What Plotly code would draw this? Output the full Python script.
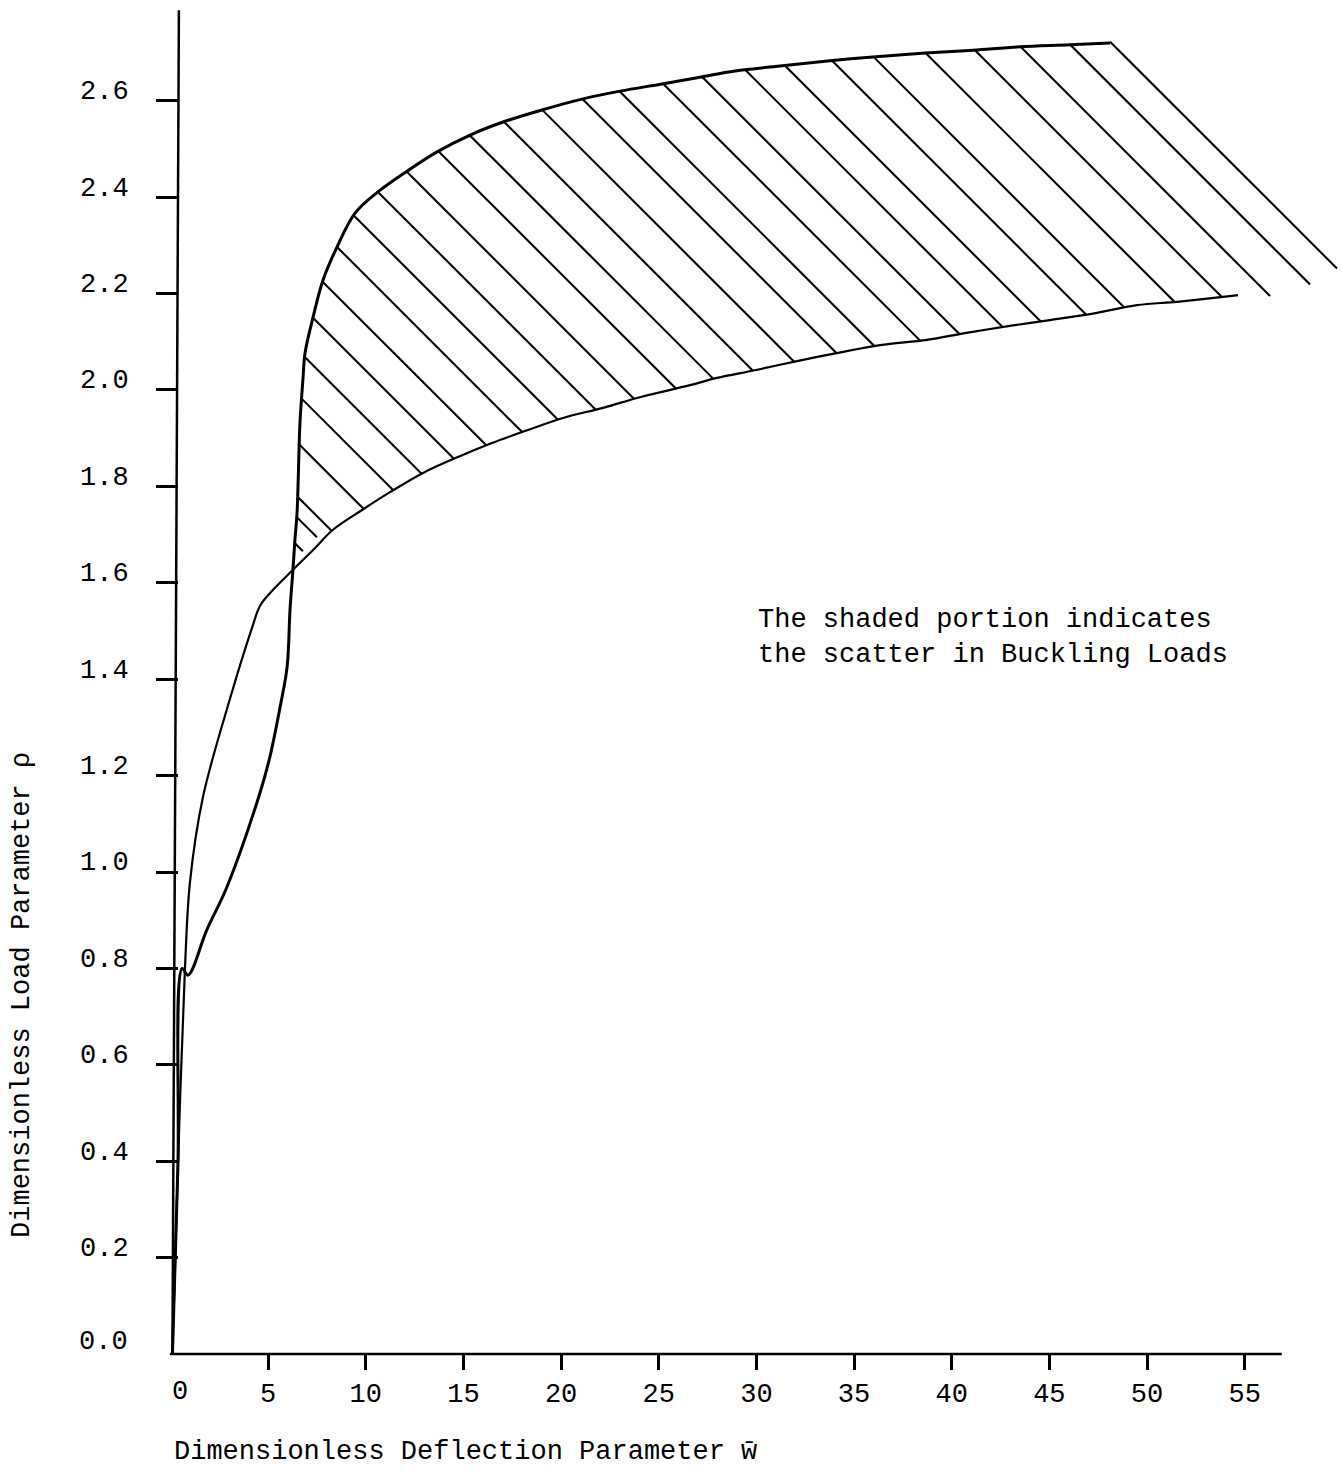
import plotly.graph_objects as go

# ---- data ----
# Curve B (thick): upper boundary of scatter band
B_W = [0.1, 0.38, 0.6, 0.9, 1.86, 2.90, 4.58, 5.09, 5.61, 5.97, 6.12, 6.27, 6.37,
       6.48, 6.63, 6.78, 6.89, 7.30, 7.81, 8.53, 9.45, 10.62, 12.11, 13.65, 15.34,
       17.03, 19.02, 21.12, 23.02, 25.17, 27.11, 28.91, 31.21, 33.77, 35.97, 38.64,
       41.09, 43.50, 46.06, 48.11]
B_RHO = [0.0, 0.39, 0.80, 0.786, 0.880, 0.970, 1.164, 1.239, 1.342, 1.425, 1.544,
         1.627, 1.689, 1.745, 1.932, 2.021, 2.077, 2.151, 2.228, 2.297, 2.367, 2.411,
         2.454, 2.494, 2.529, 2.556, 2.581, 2.604, 2.620, 2.635, 2.649, 2.662, 2.672,
         2.683, 2.691, 2.699, 2.705, 2.712, 2.716, 2.720]

# Curve A (thin): lower boundary of scatter band
A_W = [0.1, 0.38, 0.74, 1.0, 1.66, 3.05, 4.17, 4.58, 5.10, 6.27, 7.30, 8.32, 9.81,
       11.24, 12.93, 14.72, 16.46, 18.30, 20.10, 22.15, 24.04, 26.60, 27.98, 29.93,
       32.08, 34.18, 36.33, 38.73, 40.68, 42.98, 45.03, 47.44, 49.49, 51.54, 53.89,
       54.66]
A_RHO = [0.0, 0.39, 0.80, 0.98, 1.155, 1.36, 1.506, 1.552, 1.579, 1.627, 1.668, 1.710,
         1.751, 1.788, 1.828, 1.861, 1.890, 1.917, 1.942, 1.963, 1.985, 2.010, 2.025,
         2.041, 2.060, 2.077, 2.093, 2.104, 2.118, 2.133, 2.145, 2.160, 2.176, 2.183,
         2.193, 2.197]

CROSS_W = 6.27  # where the two curves cross; hatching lies to the right

# Hatch lines: rho-intercept (at w = 0) of each diagonal line, and explicit end w
HATCH_SLOPE = -0.0405
HATCH_INTERCEPT = [1.940, 1.998, 2.042, 2.154, 2.254, 2.347, 2.445, 2.540, 2.642,
                   2.742, 2.841, 2.943, 3.051, 3.149, 3.248, 3.352, 3.458, 3.551,
                   3.657, 3.752, 3.856, 3.947, 4.055, 4.149, 4.265, 4.373, 4.475,
                   4.582, 4.671]
HATCH_END_W = [6.78, 7.50, None, None, None, None, None, None, None, None, None,
               None, None, None, None, None, None, None, None, None, None, None,
               None, None, None, None, 56.3, 58.35, 59.73]

X_TICKS = [5, 10, 15, 20, 25, 30, 35, 40, 45, 50, 55]
Y_TICKS = [0.2, 0.4, 0.6, 0.8, 1.0, 1.2, 1.4, 1.6, 1.8, 2.0, 2.2, 2.4, 2.6]
Y_TICK_TEXT = ["0.2", "0.4", "0.6", "0.8", "1.0", "1.2", "1.4", "1.6", "1.8",
               "2.0", "2.2", "2.4", "2.6"]

X_TITLE = "Dimensionless Deflection Parameter w\u0304"
Y_TITLE = "Dimensionless Load Parameter \u03c1"
NOTE = "The shaded portion indicates<br>the scatter in Buckling Loads"

# ---- helpers ----
def branch(ws, rs, w0):
    pts = [(w, r) for w, r in zip(ws, rs) if w >= w0 - 1e-9]
    return [p[0] for p in pts], [p[1] for p in pts]

def intersect(ws, rs, k, m):
    for i in range(len(ws) - 1):
        f0 = rs[i] - (k + m * ws[i])
        f1 = rs[i + 1] - (k + m * ws[i + 1])
        if f0 == 0:
            return ws[i]
        if f0 * f1 < 0:
            t = f0 / (f0 - f1)
            return ws[i] + t * (ws[i + 1] - ws[i])
    return None

UW, UR = branch(B_W, B_RHO, CROSS_W)
LW, LR = branch(A_W, A_RHO, CROSS_W)

hx, hy = [], []
for k, wend in zip(HATCH_INTERCEPT, HATCH_END_W):
    w1 = intersect(UW, UR, k, HATCH_SLOPE)
    if w1 is None:
        w1 = UW[-1]
    w2 = wend if wend is not None else intersect(LW, LR, k, HATCH_SLOPE)
    if w2 is None:
        continue
    hx += [w1, w2, None]
    hy += [k + HATCH_SLOPE * w1, k + HATCH_SLOPE * w2, None]

FONT = dict(family="Liberation Mono, Courier New, monospace", size=27, color="black")

fig = go.Figure()
fig.add_trace(go.Scatter(x=hx, y=hy, mode="lines",
                         line=dict(color="black", width=2.1), hoverinfo="skip"))
fig.add_trace(go.Scatter(x=A_W, y=A_RHO, mode="lines",
                         line=dict(color="black", width=2.2, shape="spline", smoothing=1.0)))
fig.add_trace(go.Scatter(x=B_W, y=B_RHO, mode="lines",
                         line=dict(color="black", width=3, shape="spline", smoothing=1.0)))

# axis lines
fig.add_shape(type="line", xref="x", yref="y", x0=-0.03, y0=0, x1=56.9, y1=0,
              line=dict(color="black", width=2.5))
fig.add_shape(type="line", xref="x", yref="y", x0=0.1, y0=0, x1=0.43, y1=2.788,
              line=dict(color="black", width=2.5))

fig.update_layout(
    width=1343, height=1472,
    margin=dict(l=150, r=0, t=0, b=92),
    paper_bgcolor="white", plot_bgcolor="white",
    showlegend=False,
    font=FONT,
    xaxis=dict(range=[-1.0497, 60.036], showgrid=False, zeroline=False, showline=False,
               anchor="free", position=0.01884,
               tickmode="array", tickvals=X_TICKS, ticks="outside", ticklen=15,
               tickwidth=2.5, tickcolor="black", ticklabelstandoff=0,
               tickfont=FONT),
    yaxis=dict(range=[-0.05394, 2.8091], showgrid=False, zeroline=False, showline=False,
               anchor="free", position=0.02347,
               tickmode="array", tickvals=Y_TICKS, ticktext=Y_TICK_TEXT,
               ticks="outside", ticklen=22, tickwidth=2.5, tickcolor="black",
               ticklabelstandoff=22, ticklabelshift=-11, tickfont=FONT),
    annotations=[
        dict(x=0.49, y=0, xref="x", yref="y", text="0", showarrow=False,
             yshift=-38, font=FONT, xanchor="center", yanchor="middle"),
        dict(x=0.1, y=0, xref="x", yref="y", text="0.0", showarrow=False,
             xshift=-42, yshift=12, font=FONT, xanchor="right", yanchor="middle"),
        dict(x=29.98, y=1.486, xref="x", yref="y", text=NOTE, showarrow=False,
             align="left", xanchor="left", yanchor="middle", font=FONT),
        dict(x=0.01844, y=-0.05217, xref="paper", yref="paper", text=X_TITLE,
             showarrow=False, xanchor="left", yanchor="middle", font=FONT),
        dict(x=-0.1073, y=0.279, xref="paper", yref="paper", text=Y_TITLE,
             showarrow=False, textangle=-90, xanchor="center", yanchor="middle",
             font=FONT),
    ],
)

fig.write_html("out.html")
